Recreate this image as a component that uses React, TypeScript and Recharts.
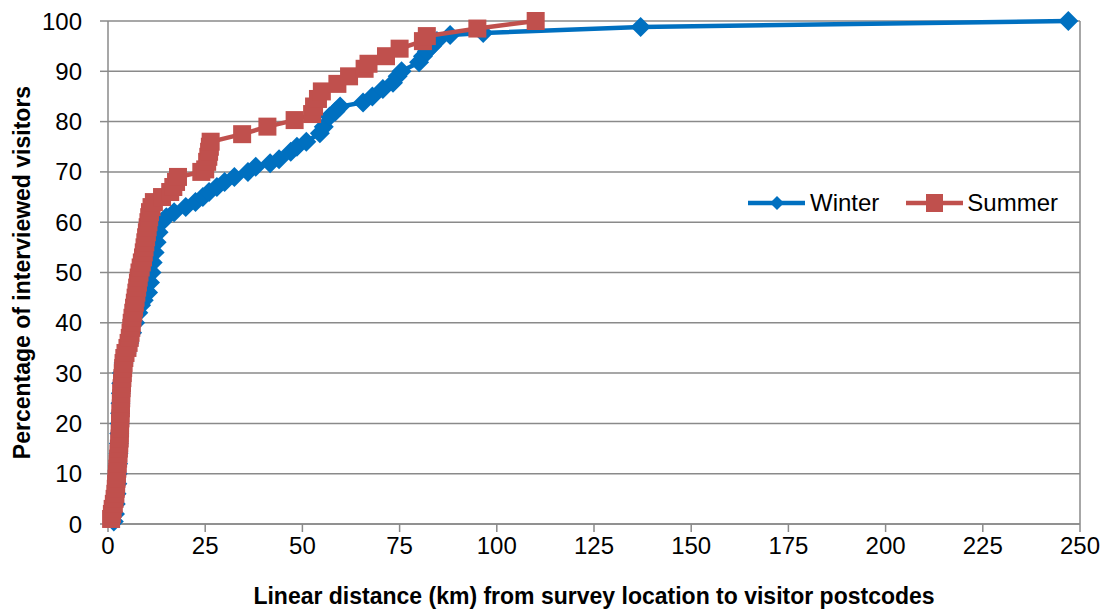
import React from "react";
import {
  ScatterChart,
  Scatter,
  XAxis,
  YAxis,
  CartesianGrid,
  ReferenceLine,
  Label,
} from "recharts";

const FONT = "'Liberation Sans', Arial, sans-serif";
const BLUE = "#0070C0";
const RED = "#C0504D";
const GRID = "#8a8a8a";

const xTicks = [0, 25, 50, 75, 100, 125, 150, 175, 200, 225, 250];
const yTicks = [0, 10, 20, 30, 40, 50, 60, 70, 80, 90, 100];

// distance (km) and cumulative share (%)
const winterKm = [
  1.5, 1.8, 2, 2.2, 2.4, 2.5, 2.6, 2.7, 2.8, 2.9, 3, 3.1, 3.2, 3.3, 3.4, 3.6, 4, 4.8, 5.5, 6.2, 7, 7.8,
  8.5, 9.2, 10.3, 10.8, 11.2, 11.5, 12, 12.5, 13, 13.8, 15, 17, 20, 22.5, 24.4, 26, 28, 30, 32.5, 36,
  38, 41.7, 44, 47, 48.6, 51, 54.5, 55.5, 57, 58.5, 59.7, 65.6, 68, 70.7, 73.3, 74.5, 75.5, 80, 81,
  82, 83.3, 84.6, 88, 96.5, 137, 247,
];
const winterPct = [
  0.5, 2, 4, 6, 8, 10, 12, 14, 16, 18, 20, 22, 24, 26, 28, 30, 32, 34, 36, 38, 40, 42,
  43.5, 44.5, 46, 48, 50, 52, 54, 56, 58, 60, 61, 62, 63, 64, 65, 66, 67, 68, 69, 70,
  71, 71.7, 72.5, 74, 75, 76, 77.7, 79, 81, 82, 83, 83.8, 85, 86.5, 87.7, 89, 90, 91.8, 93,
  94, 95, 96, 97.2, 97.6, 98.8, 100,
];

const summerKm = [
  0.8, 1, 1.2, 1.5, 1.7, 1.9, 2, 2.1, 2.2, 2.3, 2.4, 2.5, 2.6, 2.7, 2.8, 2.9, 3, 3, 3.1, 3.1, 3.2,
  3.2, 3.3, 3.3, 3.4, 3.4, 3.5, 3.6, 3.7, 3.8, 3.9, 4, 4.2, 4.5, 5, 5.3, 5.6, 5.8, 6, 6.1, 6.3, 6.5,
  6.7, 6.9, 7.1, 7.3, 7.5, 7.7, 7.9, 8.1, 8.4, 8.7, 9, 9.2, 9.4, 9.6, 9.8, 10, 10.2, 10.4, 10.6,
  10.8, 11.2, 11.8, 13.9, 16, 16.8, 17.5, 18, 24, 25, 25.5, 25.8, 26, 26.2, 26.4, 34.5, 41, 48,
  52.5, 53, 54, 55, 59, 62, 66, 67, 71.5, 75, 81, 82, 95, 110,
];
const summerPct = [
  1, 2, 3, 4, 5, 6, 7, 8, 9, 10, 11, 12, 13, 14, 15, 16, 17, 18, 19, 20, 21,
  22, 23, 24, 25, 26, 27, 28, 29, 30, 31, 32, 33, 34, 35, 36, 37, 38, 39, 40, 41, 42,
  43, 44, 45, 46, 47, 48, 49, 50, 51, 52, 53, 54, 55, 56, 57, 58, 59, 60, 61,
  62, 63, 64, 65, 66, 67, 68, 69, 70, 70.5, 72, 73, 74, 75, 76, 77.5, 79, 80.3,
  81.5, 83, 84.5, 86, 87.5, 89, 90.5, 91.5, 93, 94.5, 96, 97, 98.5, 100,
];

const toPoints = (km: number[], pct: number[]) => km.map((x, i) => ({ x, y: pct[i] }));
const winter = toPoints(winterKm, winterPct);
const summer = toPoints(summerKm, summerPct);

const Diamond = (p: any) => {
  if (p.cx == null || p.cy == null) return null;
  const r = 10;
  return (
    <polygon
      points={`${p.cx},${p.cy - r} ${p.cx + r},${p.cy} ${p.cx},${p.cy + r} ${p.cx - r},${p.cy}`}
      fill={BLUE}
    />
  );
};

const Square = (p: any) => {
  if (p.cx == null || p.cy == null) return null;
  const s = 18;
  return <rect x={p.cx - s / 2} y={p.cy - s / 2} width={s} height={s} fill={RED} />;
};

const LegendBox = () => (
  <div
    style={{
      position: "absolute",
      left: 748,
      top: 190,
      display: "flex",
      alignItems: "center",
      fontFamily: FONT,
      fontSize: 24,
      color: "#000",
      lineHeight: "26px",
    }}
  >
    <svg width={57} height={22}>
      <line x1={0} y1={11} x2={57} y2={11} stroke={BLUE} strokeWidth={4.5} />
      <polygon points="29,4 36,11 29,18 22,11" fill={BLUE} />
    </svg>
    <span style={{ marginLeft: 5, marginRight: 27 }}>Winter</span>
    <svg width={57} height={22}>
      <line x1={0} y1={11} x2={57} y2={11} stroke={RED} strokeWidth={4.5} />
      <rect x={20} y={2} width={17} height={18} fill={RED} />
    </svg>
    <span style={{ marginLeft: 4 }}>Summer</span>
  </div>
);

const YTitle = (props: any) => {
  const vb = props.viewBox || {};
  const cy = vb.y + vb.height / 2;
  return (
    <text
      x={22}
      y={cy}
      transform={`rotate(-90, 22, ${cy})`}
      textAnchor="middle"
      dominantBaseline="central"
      fontFamily={FONT}
      fontWeight="bold"
      fontSize={23}
      fill="#000"
    >
      Percentage of interviewed visitors
    </text>
  );
};

export default function App() {
  return (
    <div style={{ position: "absolute", left: 0, top: 0, width: 1109, height: 615, background: "#fff" }}>
      <ScatterChart width={1109} height={615} margin={{ top: 21, right: 29, bottom: 31, left: 48 }}>
        <CartesianGrid vertical={false} stroke={GRID} strokeWidth={1.5} />
        <ReferenceLine x={250} stroke={GRID} strokeWidth={1.5} />
        <XAxis
          type="number"
          dataKey="x"
          domain={[0, 250]}
          ticks={xTicks}
          interval={0}
          height={60}
          tickSize={8}
          tickMargin={5}
          stroke={GRID}
          strokeWidth={1.5}
          tick={{ fill: "#000", fontSize: 24, fontFamily: FONT }}
        >
          <Label
            value="Linear distance (km) from survey location to visitor postcodes"
            position="bottom"
            offset={4}
            style={{ fontFamily: FONT, fontWeight: "bold", fontSize: 23, fill: "#000" }}
          />
        </XAxis>
        <YAxis
          type="number"
          dataKey="y"
          domain={[0, 100]}
          ticks={yTicks}
          interval={0}
          width={60}
          tickSize={8}
          tickMargin={18}
          stroke={GRID}
          strokeWidth={1.5}
          tick={{ fill: "#000", fontSize: 24, fontFamily: FONT }}
        >
          <Label content={<YTitle />} />
        </YAxis>
        <Scatter
          name="Winter"
          data={winter}
          line={{ stroke: BLUE, strokeWidth: 4.5 }}
          lineJointType="linear"
          shape={Diamond}
          isAnimationActive={false}
        />
        <Scatter
          name="Summer"
          data={summer}
          line={{ stroke: RED, strokeWidth: 4.5 }}
          lineJointType="linear"
          shape={Square}
          isAnimationActive={false}
        />
      </ScatterChart>
      <LegendBox />
    </div>
  );
}
